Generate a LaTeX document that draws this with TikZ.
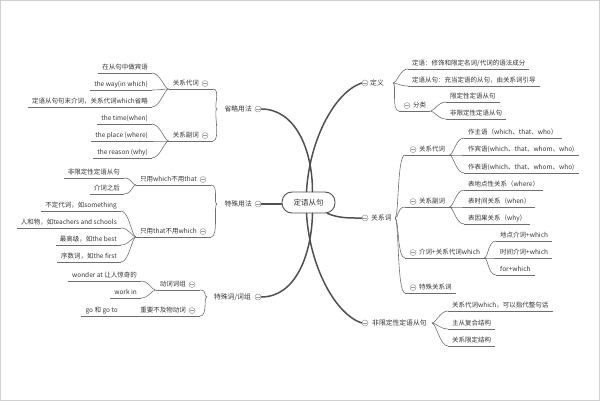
\documentclass[tikz,border=0pt]{standalone}
\usepackage{fontspec}
\setmainfont{Noto Sans CJK SC}
\definecolor{txt}{HTML}{333333}
\definecolor{mainline}{HTML}{505050}
\definecolor{subline}{HTML}{6E6E6E}
\definecolor{btncol}{HTML}{9A9A9A}
\definecolor{framecol}{HTML}{D0D0D0}
\newcommand\leaffont{\fontsize{6.5pt}{7pt}\selectfont}
\newcommand\mfont{\fontsize{6.8pt}{7.5pt}\selectfont}
\newcommand\cfont{\fontsize{7.5pt}{8.5pt}\selectfont}
\begin{document}
\begin{tikzpicture}[x=1pt,y=-1pt,
  leaf/.style={font=\leaffont, text=txt, inner xsep=4pt, inner ysep=2pt, text height=5.2pt, text depth=1.3pt},
  mainn/.style={font=\mfont, text=txt, inner sep=0pt},
  btn/.style={circle, draw=btncol, line width=0.5pt, fill=white, minimum size=6pt, inner sep=0pt,
    path picture={\draw[btncol, line width=0.5pt] ([xshift=-1.8pt]path picture bounding box.center) -- ([xshift=1.8pt]path picture bounding box.center);}},
  uline/.style={draw=subline, line width=0.6pt},
  mline/.style={draw=mainline, line width=1.5pt, line cap=round},
]
\useasboundingbox (0,0) rectangle (600,401);
\draw[framecol, line width=1pt] (0.5,0.5) rectangle (599.5,400.5);

% centre
\node[draw=mainline, line width=0.9pt, rounded corners=10pt, minimum width=53pt, minimum height=21pt, fill=white, font=\cfont, text=txt] (c) at (308.5,202.5) {定语从句};

% ---------- right side ----------
\node[mainn, anchor=west] (m2) at (370,83) {定义};
\node[btn] (b2) at (365,83) {};
\coordinate (t2) at (393,83);
\node[leaf, anchor=south west] (r1a) at (408,69) {定语：修饰和限定名词/代词的语法成分};
\node[leaf, anchor=south west] (r1b) at (408,86) {定语从句：充当定语的从句，由关系词引导};
\node[leaf, anchor=south west] (r1c) at (399,111) {\kern10pt 分类};
\node[btn] (b1c) at ([xshift=8pt]r1c.west) {};
\node[leaf, anchor=south west] (r1c1) at (446,102) {限定性定语从句};
\node[leaf, anchor=south west] (r1c2) at (446,119) {非限定性定语从句};

\node[mainn, anchor=west] (m3) at (371,218) {关系词};
\node[btn] (b3) at (365,218) {};
\coordinate (t3) at (395,218);
\node[leaf, anchor=south west] (r2a) at (405,155) {\kern10pt 关系代词};
\node[btn] (b2a) at ([xshift=8pt]r2a.west) {};
\node[leaf, anchor=south west] (r2a1) at (464,138) {作主语（which、that、who）};
\node[leaf, anchor=south west] (r2a2) at (464,155) {作宾语(which、that、whom、who)};
\node[leaf, anchor=south west] (r2a3) at (464,173) {作表语(which、that、whom、who)};
\node[leaf, anchor=south west] (r2b) at (405,207) {\kern10pt 关系副词};
\node[btn] (b2b) at ([xshift=8pt]r2b.west) {};
\node[leaf, anchor=south west] (r2b1) at (464,190) {表地点性关系（where）};
\node[leaf, anchor=south west] (r2b2) at (464,207) {表时间关系（when）};
\node[leaf, anchor=south west] (r2b3) at (464,224) {表因果关系（why）};
\node[leaf, anchor=south west] (r2c) at (405,258) {\kern10pt 介词+关系代词which};
\node[btn] (b2c) at ([xshift=8pt]r2c.west) {};
\node[leaf, anchor=south west] (r2c1) at (496,241) {地点介词+which};
\node[leaf, anchor=south west] (r2c2) at (496,258) {时间介词+which};
\node[leaf, anchor=south west] (r2c3) at (496,275) {for+which};
\node[leaf, anchor=south west] (r2d) at (405,293) {\kern10pt 特殊关系词};
\node[btn] (b2d) at ([xshift=8pt]r2d.west) {};

\node[mainn, anchor=west] (m4) at (372,323) {非限定性定语从句};
\node[btn] (b4) at (365,323) {};
\coordinate (t4) at (432,323);
\node[leaf, anchor=south west] (r3a) at (448,311) {关系代词which，可以指代整句话};
\node[leaf, anchor=south west] (r3b) at (448,329) {主从复合结构};
\node[leaf, anchor=south west] (r3c) at (448,346) {关系限定结构};

% ---------- left side ----------
\node[mainn, anchor=east] (m5) at (252,109) {省略用法};
\node[btn] (b5) at (258,109) {};
\coordinate (t5) at (217,109);
\node[leaf, anchor=south east] (l1a) at (213,89) {关系代词\kern10pt};
\node[btn] (b1a) at ([xshift=-8pt]l1a.east) {};
\node[leaf, anchor=south east] (l1a1) at (152,73) {在从句中做宾语};
\node[leaf, anchor=south east] (l1a2) at (152,90) {the way(in which)};
\node[leaf, anchor=south east] (l1a3) at (152,107) {定语从句句末介词，关系代词which省略};
\node[leaf, anchor=south east] (l1b) at (213,141) {关系副词\kern10pt};
\node[btn] (b1b) at ([xshift=-8pt]l1b.east) {};
\node[leaf, anchor=south east] (l1b1) at (152,124) {the time(when)};
\node[leaf, anchor=south east] (l1b2) at (152,141) {the place (where)};
\node[leaf, anchor=south east] (l1b3) at (152,158) {the reason (why)};

\node[mainn, anchor=east] (m6) at (252,204) {特殊用法};
\node[btn] (b6) at (258,204) {};
\coordinate (t6) at (217,204);
\node[leaf, anchor=south east] (l2a) at (211,185) {只用which不用that\kern10pt};
\node[btn] (bl2a) at ([xshift=-8pt]l2a.east) {};
\node[leaf, anchor=south east] (l2a1) at (124,178) {非限定性定语从句};
\node[leaf, anchor=south east] (l2a2) at (124,194) {介词之后};
\node[leaf, anchor=south east] (l2b) at (211,237) {只用that不用which\kern10pt};
\node[btn] (bl2b) at ([xshift=-8pt]l2b.east) {};
\node[leaf, anchor=south east] (l2b1) at (121,211) {不定代词，如something};
\node[leaf, anchor=south east] (l2b2) at (121,228) {人和物，如teachers and schools};
\node[leaf, anchor=south east] (l2b3) at (121,245) {最高级，如the best};
\node[leaf, anchor=south east] (l2b4) at (121,262) {序数词，如the first};

\node[mainn, anchor=east] (m7) at (251,297) {特殊词/词组};
\node[btn] (b7) at (258,297) {};
\coordinate (t7) at (207,297);
\node[leaf, anchor=south east] (l3a) at (200,290) {动词词组\kern10pt};
\node[btn] (bl3a) at ([xshift=-8pt]l3a.east) {};
\node[leaf, anchor=south east] (l3a1) at (141,281) {wonder at 让人惊奇的};
\node[leaf, anchor=south east] (l3a2) at (141,298) {work in};
\node[leaf, anchor=south east] (l3b) at (200,316) {重要不及物动词\kern10pt};
\node[btn] (bl3b) at ([xshift=-8pt]l3b.east) {};
\node[leaf, anchor=south east] (l3b1) at (122,316) {go 和 go to};

% ---------- underlines ----------
\foreach \n in {r1a,r1b,r1c,r1c1,r1c2,r2a,r2a1,r2a2,r2a3,r2b,r2b1,r2b2,r2b3,r2c,r2c1,r2c2,r2c3,r2d,r3a,r3b,r3c,
  l1a,l1a1,l1a2,l1a3,l1b,l1b1,l1b2,l1b3,l2a,l2a1,l2a2,l2b,l2b1,l2b2,l2b3,l2b4,l3a,l3a1,l3a2,l3b,l3b1}
  \draw[uline] (\n.south west) -- (\n.south east);

% ---------- bracket connectors ----------
\foreach \p/\q in {t2/r1a,t2/r1b,t2/r1c,r1c.south east/r1c1,r1c.south east/r1c2,
  t3/r2a,t3/r2b,t3/r2c,t3/r2d,
  r2a.south east/r2a1,r2a.south east/r2a2,r2a.south east/r2a3,
  r2b.south east/r2b1,r2b.south east/r2b2,r2b.south east/r2b3,
  r2c.south east/r2c1,r2c.south east/r2c2,r2c.south east/r2c3,
  t4/r3a,t4/r3b,t4/r3c}
  \draw[uline] (\p) .. controls +(4,0) and +(-8,0) .. (\q.south west);
\foreach \p/\q in {t5/l1a,t5/l1b,l1a.south west/l1a1,l1a.south west/l1a2,l1a.south west/l1a3,
  l1b.south west/l1b1,l1b.south west/l1b2,l1b.south west/l1b3,
  t6/l2a,t6/l2b,l2a.south west/l2a1,l2a.south west/l2a2,
  l2b.south west/l2b1,l2b.south west/l2b2,l2b.south west/l2b3,l2b.south west/l2b4,
  t7/l3a,t7/l3b,l3a.south west/l3a1,l3a.south west/l3a2}
  \draw[uline] (\p) .. controls +(-4,0) and +(8,0) .. (\q.south east);
\draw[uline] (l3b.south west) -- (l3b1.south east);

% ---------- main branches ----------
\draw[mline] ([xshift=4pt]c.north) .. controls +(0,-42) and +(34,0) .. (b5.east);
\draw[mline] ([xshift=-2pt]c.north) .. controls +(3,-52) and +(-27,9) .. (b2.west);
\draw[mline] ([xshift=4pt]c.south) .. controls +(-1,42) and +(34,0) .. (b7.east);
\draw[mline] ([xshift=-2pt]c.south) .. controls +(3,52) and +(-27,-9) .. (b4.west);
\draw[mline] ([xshift=-8pt]c.south east) .. controls +(12,5) and +(-12,0) .. (b3.west);
\draw[mline] (b6.east) -- (b6.east -| c.west);
\end{tikzpicture}
\end{document}
